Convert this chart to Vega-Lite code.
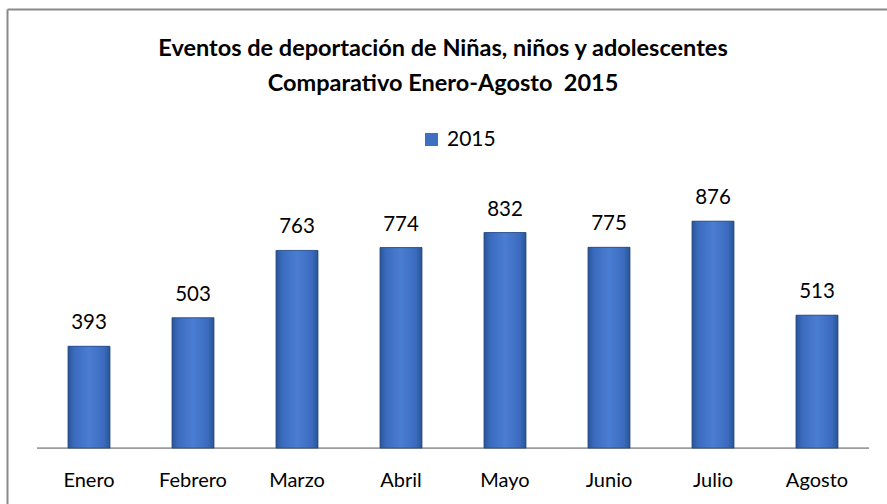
{
  "$schema": "https://vega.github.io/schema/vega-lite/v6.json",
  "width": 880,
  "height": 495,
  "autosize": {"type": "none"},
  "padding": {"left": 7, "top": 9, "right": 0, "bottom": 0},
  "background": "white",
  "config": {
    "font": "Lato",
    "view": {"stroke": null},
    "text": {"font": "Lato"}
  },
  "title": {
    "text": ["Eventos de deportación de Niñas, niños y adolescentes", "Comparativo Enero-Agosto\u00a0 2015"],
    "font": "Lato",
    "fontSize": 23.5,
    "fontWeight": "bold",
    "color": "#000000",
    "lineHeight": 35,
    "anchor": "middle",
    "frame": "group",
    "orient": "top",
    "offset": -86,
    "dx": -4
  },
  "data": {
    "values": [
      {"mes": "Enero", "eventos": 393, "serie": "2015"},
      {"mes": "Febrero", "eventos": 503, "serie": "2015"},
      {"mes": "Marzo", "eventos": 763, "serie": "2015"},
      {"mes": "Abril", "eventos": 774, "serie": "2015"},
      {"mes": "Mayo", "eventos": 832, "serie": "2015"},
      {"mes": "Junio", "eventos": 775, "serie": "2015"},
      {"mes": "Julio", "eventos": 876, "serie": "2015"},
      {"mes": "Agosto", "eventos": 513, "serie": "2015"}
    ]
  },
  "resolve": {"axis": {"x": "independent", "y": "independent"}},
  "layer": [
    {
      "mark": {"type": "tick", "size": 104, "thickness": 1.75, "color": "#9c9c9c", "opacity": 1},
      "encoding": {
        "x": {
          "field": "mes", "type": "nominal", "sort": null,
          "scale": {"paddingInner": 0.596, "paddingOuter": 0.5288, "align": 0.5545},
          "axis": {
            "orient": "bottom", "offset": -56, "domain": false, "ticks": false, "tickSize": 0,
            "labelPadding": 38, "labelBaseline": "alphabetic", "labelAngle": 0,
            "labelFont": "Lato", "labelFontSize": 20, "labelColor": "#000000", "title": null
          }
        },
        "y": {
          "datum": 0, "type": "quantitative",
          "scale": {"domain": [-216, 1695], "nice": false, "zero": false},
          "axis": null
        }
      }
    },
    {
      "mark": {"type": "bar"},
      "encoding": {
        "x": {
          "field": "mes", "type": "nominal", "sort": null,
          "scale": {"paddingInner": 0.596, "paddingOuter": 0.5288, "align": 0.5545},
          "axis": {
            "orient": "top", "domain": true, "domainColor": "#8a8a8a", "domainWidth": 2,
            "ticks": false, "labels": false, "title": null, "grid": false
          }
        },
        "y": {
          "field": "eventos", "type": "quantitative",
          "scale": {"domain": [-216, 1695], "nice": false, "zero": false},
          "axis": {
            "orient": "left", "domain": true, "domainColor": "#8a8a8a", "domainWidth": 2,
            "ticks": false, "labels": false, "title": null, "grid": false
          }
        },
        "fill": {
          "field": "serie", "type": "nominal",
          "scale": {"range": ["#3d6fc2"]},
          "legend": {
            "orient": "none", "legendX": 414, "legendY": 120, "title": null,
            "symbolType": "square", "symbolSize": 169, "symbolStrokeWidth": 0,
            "labelFont": "Lato", "labelFontSize": 21, "labelColor": "#000000", "labelOffset": 5
          }
        }
      }
    },
    {
      "mark": {
        "type": "bar",
        "stroke": "#22467e",
        "strokeWidth": 0.75,
        "color": {
          "gradient": "linear", "x1": 0, "x2": 1, "y1": 0, "y2": 0,
          "stops": [
            {"offset": 0, "color": "#2a5596"},
            {"offset": 0.14, "color": "#3a6abd"},
            {"offset": 0.5, "color": "#4a7ed2"},
            {"offset": 0.86, "color": "#3a6abd"},
            {"offset": 1, "color": "#2a5596"}
          ]
        }
      },
      "encoding": {
        "x": {
          "field": "mes", "type": "nominal", "sort": null,
          "scale": {"paddingInner": 0.596, "paddingOuter": 0.5288, "align": 0.5545},
          "axis": null
        },
        "y": {
          "field": "eventos", "type": "quantitative",
          "scale": {"domain": [-216, 1695], "nice": false, "zero": false},
          "axis": null
        }
      }
    },
    {
      "mark": {"type": "text", "baseline": "alphabetic", "dy": -17, "fontSize": 20.5, "font": "Lato", "color": "#000000"},
      "encoding": {
        "x": {
          "field": "mes", "type": "nominal", "sort": null,
          "scale": {"paddingInner": 0.596, "paddingOuter": 0.5288, "align": 0.5545},
          "axis": null
        },
        "y": {
          "field": "eventos", "type": "quantitative",
          "scale": {"domain": [-216, 1695], "nice": false, "zero": false},
          "axis": null
        },
        "text": {"field": "eventos", "type": "quantitative"}
      }
    }
  ]
}
